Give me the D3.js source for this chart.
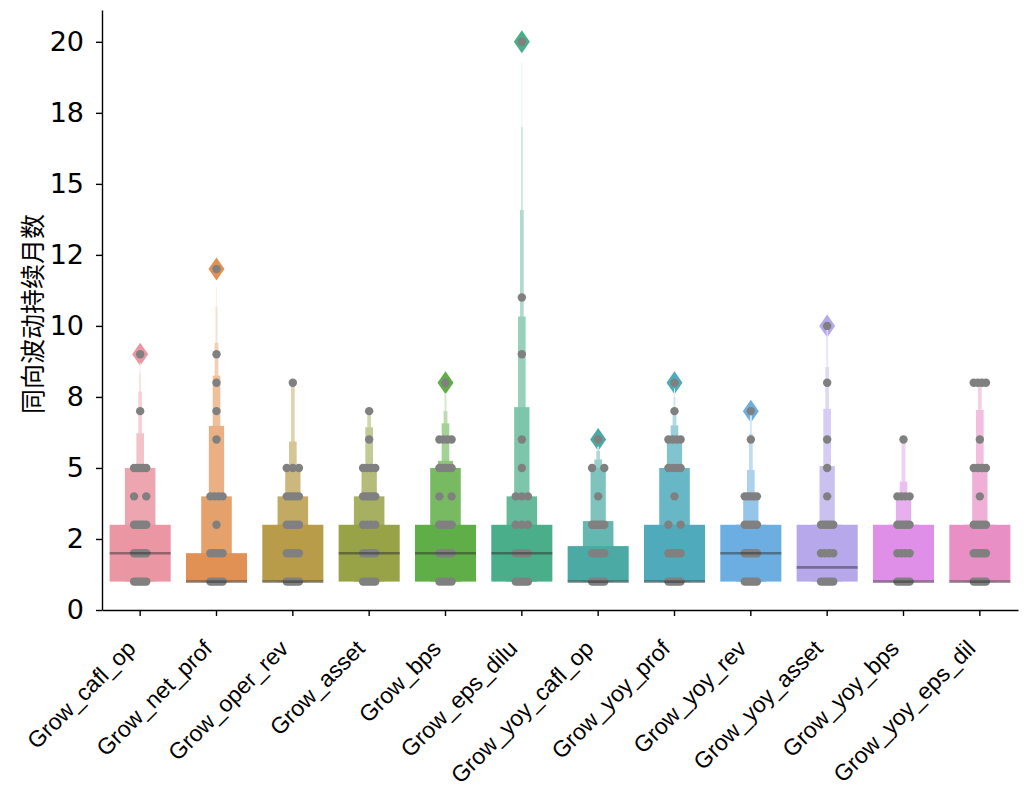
<!DOCTYPE html>
<html>
<head>
<meta charset="utf-8">
<script src="https://cdn.jsdelivr.net/npm/d3@7"></script>
<style>
  body { margin: 0; background: #fff; }
</style>
</head>
<body>
<div id="chart"></div>
<script>
// Letter-value (boxen) plot with a strip plot on top

const categories = ["Grow_cafl_op", "Grow_net_prof", "Grow_oper_rev", "Grow_asset", "Grow_bps", "Grow_eps_dilu",
  "Grow_yoy_cafl_op", "Grow_yoy_prof", "Grow_yoy_rev", "Grow_yoy_asset", "Grow_yoy_bps", "Grow_yoy_eps_dil"];

const medians = [2, 1, 1, 2, 2, 2, 1, 1, 2, 1.5, 1, 1];

// lower end shared by every letter-value box (data minimum)
const boxLower = [1, 1, 1, 1, 1, 1, 1, 1, 1, 1, 1, 1];

// upper end of each letter-value box, innermost (quartile) -> outermost
const boxUpper = [
  [3, 5, 5, 6.22, 7.69, 8.34, 8.7],
  [2, 4, 6.48, 8.25, 9.4, 10.68, 11.36],
  [3, 4, 5, 5.93, 8, 8, 8],
  [3, 4, 5, 6.43, 6.92, 7, 7],
  [3, 5, 5.25, 6.57, 7, 7.63, 7.63],
  [3, 4, 7.14, 10.33, 14.08, 17, 19.26],
  [2.25, 3.13, 5, 5.3, 5.6, 5.75, 5.75],
  [3, 5, 6, 6.5, 7, 7.5, 7.8],
  [3, 3, 4, 4.93, 6.2, 6.85, 6.85],
  [3, 3, 5.07, 7.08, 8.55, 9.6, 9.9],
  [3, 3, 4, 4.52, 6, 6, 6],
  [3, 3, 5, 7.04, 8, 8, 8]
];

const outliers = [[9], [12], [], [], [8], [20], [6], [8], [7], [10], [], []];

// strip plot points: [value, number of visible points]
const stripPoints = [
  [[1, 6], [2, 6], [3, 6], [4, 2], [5, 5], [7, 1], [9, 1]],
  [[1, 6], [2, 5], [3, 1], [4, 4], [6, 1], [7, 1], [8, 1], [9, 1], [12, 1]],
  [[1, 6], [2, 5], [3, 5], [4, 5], [5, 3], [8, 1]],
  [[1, 6], [2, 5], [3, 4], [4, 6], [5, 4], [6, 1], [7, 1]],
  [[1, 5], [2, 5], [3, 5], [4, 2], [5, 5], [6, 4], [8, 1]],
  [[1, 6], [2, 5], [3, 3], [4, 3], [5, 1], [6, 1], [9, 1], [11, 1], [20, 1]],
  [[1, 6], [2, 6], [3, 6], [4, 1], [5, 2], [6, 1]],
  [[1, 6], [2, 6], [3, 2], [4, 1], [5, 4], [6, 4], [7, 1], [8, 1]],
  [[1, 6], [2, 6], [3, 5], [4, 5], [6, 1], [7, 1]],
  [[1, 6], [2, 4], [3, 6], [4, 1], [5, 1], [6, 1], [8, 1], [10, 1]],
  [[1, 6], [2, 4], [3, 6], [4, 4], [6, 1]],
  [[1, 6], [2, 6], [3, 5], [4, 1], [5, 4], [6, 1], [8, 4]]
];

const yTicks = [0, 2.5, 5, 7.5, 10, 12.5, 15, 17.5, 20];
const yTickLabels = ["0", "2", "5", "8", "10", "12", "15", "18", "20"];
const yLabel = "同向波动持续月数";

// ---- husl palette (same maths as seaborn's husl module) ----
const M = [[3.2406, -1.5372, -0.4986], [-0.9689, 1.8758, 0.0415], [0.0557, -0.2040, 1.0570]];
const refU = 0.19784, refV = 0.46834, kappa = 903.2963, eps = 0.008856;

function maxChroma(L, H) {
  const hrad = H * Math.PI / 180, sinH = Math.sin(hrad), cosH = Math.cos(hrad);
  const sub1 = Math.pow(L + 16, 3) / 1560896;
  const sub2 = sub1 > eps ? sub1 : L / 903.3;
  let result = Infinity;
  M.forEach(([m1, m2, m3]) => {
    const top = (0.99915 * m1 + 1.05122 * m2 + 1.14460 * m3) * sub2;
    const rbottom = 0.86330 * m3 - 0.17266 * m2;
    const lbottom = 0.12949 * m3 - 0.38848 * m1;
    const bottom = (rbottom * sinH + lbottom * cosH) * sub2;
    [0, 1].forEach(t => {
      const C = L * (top - 1.05122 * t) / (bottom + 0.17266 * sinH * t);
      if (C > 0 && C < result) result = C;
    });
  });
  return result;
}

function huslToRgb(H, S, L) {
  const C = maxChroma(L, H) / 100 * S;
  const hr = H * Math.PI / 180;
  const U = Math.cos(hr) * C, V = Math.sin(hr) * C;
  const t = (L + 16) / 116;
  const Y = Math.pow(t, 3) > eps ? Math.pow(t, 3) : (116 * t - 16) / kappa;
  const varU = U / (13 * L) + refU, varV = V / (13 * L) + refV;
  const X = 0 - (9 * Y * varU) / ((varU - 4) * varV - varU * varV);
  const Z = (9 * Y - 15 * varV * Y - varV * X) / (3 * varV);
  return M.map(r => {
    const c = r[0] * X + r[1] * Y + r[2] * Z;
    const v = c <= 0.0031308 ? 12.92 * c : 1.055 * Math.pow(c, 1 / 2.4) - 0.055;
    return Math.max(0, Math.min(1, v));
  });
}

const palette = categories.map((c, i) => {
  const h = ((i / categories.length + 0.01) % 1) * 359;
  const rgb = huslToRgb(h, 0.9 * 99, 0.7 * 99);
  const hsl = d3.hsl(d3.rgb(rgb[0] * 255, rgb[1] * 255, rgb[2] * 255));
  hsl.s *= 0.75;
  return hsl.formatHex();
});

// ---- layout ----
const width = 1026, height = 804;
const margin = { top: 10, right: 8, bottom: 194, left: 102 };

const svg = d3.select("#chart").append("svg")
  .attr("width", width)
  .attr("height", height);

const x = d3.scaleBand()
  .domain(categories)
  .range([margin.left, width - margin.right]);

const y = d3.scaleLinear()
  .domain([0, 21.12])
  .range([height - margin.bottom, margin.top]);

const bw = x.bandwidth();
const boxW = 0.8 * bw;

// boxes
categories.forEach((cat, i) => {
  const cx = x(cat) + bw / 2;
  const color = palette[i];
  const light = d3.interpolateRgb(color, "#ffffff")(0.85);
  const nLev = boxUpper[i].length;
  const g = svg.append("g").attr("class", "boxen");

  // outliers (diamonds) first, boxes on top
  g.selectAll("path.flier")
    .data(outliers[i])
    .enter()
    .append("path")
    .attr("class", "flier")
    .attr("d", d => {
      const py = y(d);
      return `M${cx},${py - 11.5}L${cx + 8},${py}L${cx},${py + 11.5}L${cx - 8},${py}Z`;
    })
    .attr("fill", color);

  const levels = d3.range(nLev).reverse();
  g.selectAll("rect")
    .data(levels)
    .enter()
    .append("rect")
    .attr("x", l => cx - boxW * Math.pow(2, -l) / 2)
    .attr("width", l => boxW * Math.pow(2, -l))
    .attr("y", l => y(boxUpper[i][l]))
    .attr("height", l => y(boxLower[i]) - y(boxUpper[i][l]))
    .attr("fill", l => d3.interpolateRgb(color, light)(l / (nLev - 1)));
});

// strip points
categories.forEach((cat, i) => {
  const cx = x(cat) + bw / 2;
  const pts = [];
  stripPoints[i].forEach(([v, c]) => {
    for (let k = 0; k < c; k++) {
      const off = c === 1 ? 0 : -0.08 + 0.16 * k / (c - 1);
      pts.push({ v: v, off: off });
    }
  });
  svg.append("g").selectAll("circle")
    .data(pts)
    .enter()
    .append("circle")
    .attr("cx", d => cx + d.off * bw)
    .attr("cy", d => y(d.v))
    .attr("r", 4.2)
    .attr("fill", "#808080");
});

// medians
svg.append("g").selectAll("line")
  .data(categories)
  .enter()
  .append("line")
  .attr("x1", d => x(d) + bw / 2 - boxW / 2)
  .attr("x2", d => x(d) + bw / 2 + boxW / 2)
  .attr("y1", (d, i) => y(medians[i]))
  .attr("y2", (d, i) => y(medians[i]))
  .attr("stroke", "rgba(38,38,38,0.45)")
  .attr("stroke-width", 2.6);

// axes
const yAxis = svg.append("g")
  .attr("transform", `translate(${margin.left},0)`)
  .call(d3.axisLeft(y).tickValues(yTicks).tickFormat((d, i) => yTickLabels[i]).tickSize(6).tickSizeOuter(0).tickPadding(12));
yAxis.selectAll("text")
  .attr("font-family", "DejaVu Sans")
  .attr("font-size", 27)
  .attr("fill", "#000");

const xAxis = svg.append("g")
  .attr("transform", `translate(0,${height - margin.bottom})`)
  .call(d3.axisBottom(x).tickSize(6).tickSizeOuter(0));
xAxis.selectAll("text")
  .attr("font-family", "Liberation Sans, Arial")
  .attr("font-size", 23)
  .attr("fill", "#000")
  .attr("text-anchor", "end")
  .attr("x", 0).attr("y", 0).attr("dy", 0)
  .attr("transform", "translate(-3,40) rotate(-45)");

svg.selectAll(".domain").attr("stroke", "#000").attr("stroke-width", 1.4);
svg.selectAll(".tick line").attr("stroke", "#000").attr("stroke-width", 1.4);

svg.append("text")
  .attr("transform", "translate(31,314) rotate(-90)")
  .attr("text-anchor", "middle")
  .attr("dominant-baseline", "central")
  .attr("font-family", "Noto Sans CJK SC")
  .attr("font-size", 25)
  .text(yLabel);
</script>
</body>
</html>
